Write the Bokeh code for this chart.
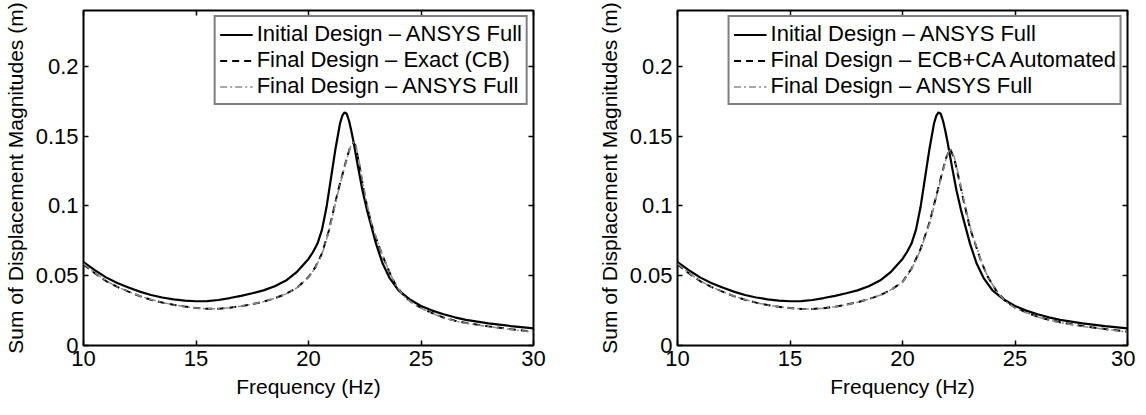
from bokeh.plotting import figure
from bokeh.models import Range1d, LinearAxis, FixedTicker, CustomJSTickFormatter
from bokeh.layouts import row
from bokeh.embed import file_html
from bokeh.resources import INLINE

# ---------------- data ----------------
x_ticks = [10, 15, 20, 25, 30]
y_ticks = [0, 0.05, 0.1, 0.15, 0.2]

x_label = "Frequency (Hz)"
y_label = "Sum of Displacement Magnitudes (m)"

labels_left = ["Initial Design \u2013 ANSYS Full",
               "Final Design \u2013 Exact (CB)",
               "Final Design \u2013 ANSYS Full"]
labels_right = ["Initial Design \u2013 ANSYS Full",
                "Final Design \u2013 ECB+CA Automated",
                "Final Design \u2013 ANSYS Full"]

# Initial design - ANSYS full (same in both panels)
freq_init = [10, 10.5, 11, 11.5, 12, 12.5, 13, 13.5, 14, 14.5, 15, 15.5, 16, 16.5,
             17, 17.5, 18, 18.5, 19, 19.5, 20, 20.2, 20.4, 20.6, 20.8, 21.0, 21.2,
             21.4, 21.5, 21.6, 21.7, 21.8, 21.9, 22.0, 22.2, 22.4, 22.6, 22.8, 23.0,
             23.3, 23.6, 24.0, 24.5, 25, 25.5, 26, 26.5, 27, 28, 29, 30]
disp_init = [0.0598, 0.0540, 0.0488, 0.0448, 0.0415, 0.0386, 0.0362, 0.0344, 0.0331,
             0.0322, 0.0317, 0.0318, 0.0326, 0.0340, 0.0356, 0.0374, 0.0395, 0.0425,
             0.0465, 0.0530, 0.0620, 0.0670, 0.0730, 0.0830, 0.0990, 0.1200, 0.1410,
             0.1590, 0.1645, 0.1670, 0.1660, 0.1610, 0.1540, 0.1460, 0.1280, 0.1110,
             0.0970, 0.0850, 0.0730, 0.0585, 0.0485, 0.0395, 0.0330, 0.0283, 0.0250,
             0.0224, 0.0202, 0.0184, 0.0158, 0.0139, 0.0123]

# Left panel: final design - exact (CB)
freq_cb = [10, 10.5, 11, 11.5, 12, 12.5, 13, 13.5, 14, 14.5, 15, 15.5, 16, 16.5, 17,
           17.5, 18, 18.5, 19, 19.5, 20, 20.3, 20.6, 20.9, 21.1, 21.3, 21.5, 21.7,
           21.85, 22.0, 22.1, 22.25, 22.4, 22.6, 22.8, 23.0, 23.3, 23.6, 23.9, 24.3,
           24.7, 25.1, 25.5, 26, 26.5, 27, 28, 29, 30]
disp_cb = [0.0582, 0.0518, 0.0462, 0.0420, 0.0386, 0.0354, 0.0328, 0.0308, 0.0292,
           0.0279, 0.0269, 0.0263, 0.0264, 0.0270, 0.0282, 0.0296, 0.0314, 0.0338,
           0.0370, 0.0415, 0.0490, 0.0560, 0.0660, 0.0820, 0.0960, 0.1100, 0.1220,
           0.1340, 0.1420, 0.1450, 0.1430, 0.1300, 0.1160, 0.1000, 0.0870, 0.0770,
           0.0640, 0.0525, 0.0425, 0.0345, 0.0298, 0.0262, 0.0232, 0.0200, 0.0178,
           0.0161, 0.0137, 0.0117, 0.0098]

# Left panel: final design - ANSYS full
freq_full_l = [10, 10.5, 11, 11.5, 12, 12.5, 13, 13.5, 14, 14.5, 15, 15.5, 16, 16.5, 17,
               17.5, 18, 18.5, 19, 19.5, 20, 20.3, 20.6, 20.9, 21.1, 21.3, 21.5, 21.7,
               21.85, 22.0, 22.1, 22.25, 22.4, 22.6, 22.8, 23.0, 23.3, 23.6, 23.9, 24.3,
               24.7, 25.1, 25.5, 26, 26.5, 27, 28, 29, 30]
disp_full_l = [0.0586, 0.0520, 0.0464, 0.0421, 0.0386, 0.0355, 0.0329, 0.0308, 0.0292,
               0.0279, 0.0269, 0.0263, 0.0264, 0.0270, 0.0282, 0.0296, 0.0314, 0.0338,
               0.0370, 0.0414, 0.0488, 0.0556, 0.0655, 0.0812, 0.0950, 0.1090, 0.1215,
               0.1335, 0.1418, 0.1455, 0.1440, 0.1320, 0.1180, 0.1015, 0.0880, 0.0775,
               0.0642, 0.0525, 0.0425, 0.0343, 0.0296, 0.0260, 0.0230, 0.0198, 0.0176,
               0.0159, 0.0135, 0.0115, 0.0096]

# Right panel: final design - ECB+CA automated
freq_ecb = [10, 10.5, 11, 11.5, 12, 12.5, 13, 13.5, 14, 14.5, 15, 15.5, 16, 16.5, 17,
            17.5, 18, 18.5, 19, 19.5, 20, 20.4, 20.8, 21.2, 21.5, 21.75, 21.95, 22.12,
            22.3, 22.5, 22.7, 23.0, 23.25, 23.5, 23.8, 24.2, 24.6, 25, 25.5, 26, 26.5,
            27, 28, 29, 30]
disp_ecb = [0.0582, 0.0518, 0.0462, 0.0420, 0.0386, 0.0354, 0.0328, 0.0307, 0.0290,
            0.0277, 0.0268, 0.0262, 0.0262, 0.0267, 0.0278, 0.0292, 0.0310, 0.0332,
            0.0360, 0.0400, 0.0455, 0.0550, 0.0690, 0.0880, 0.1070, 0.1230, 0.1350,
            0.1410, 0.1340, 0.1200, 0.1050, 0.0840, 0.0720, 0.0600, 0.0490, 0.0385,
            0.0315, 0.0272, 0.0237, 0.0207, 0.0184, 0.0166, 0.0139, 0.0118, 0.0099]

# Right panel: final design - ANSYS full
freq_full_r = [10, 10.5, 11, 11.5, 12, 12.5, 13, 13.5, 14, 14.5, 15, 15.5, 16, 16.5, 17,
               17.5, 18, 18.5, 19, 19.5, 20, 20.4, 20.8, 21.2, 21.5, 21.75, 21.95, 22.12,
               22.3, 22.5, 22.7, 23.0, 23.25, 23.5, 23.8, 24.2, 24.6, 25, 25.5, 26, 26.5,
               27, 28, 29, 30]
disp_full_r = [0.0586, 0.0520, 0.0464, 0.0421, 0.0386, 0.0355, 0.0329, 0.0307, 0.0290,
               0.0277, 0.0268, 0.0262, 0.0262, 0.0267, 0.0278, 0.0292, 0.0310, 0.0332,
               0.0360, 0.0400, 0.0453, 0.0546, 0.0684, 0.0872, 0.1062, 0.1222, 0.1345,
               0.1415, 0.1350, 0.1215, 0.1065, 0.0850, 0.0725, 0.0602, 0.0490, 0.0383,
               0.0313, 0.0270, 0.0235, 0.0205, 0.0182, 0.0164, 0.0137, 0.0116, 0.0097]

FONT = "Liberation Sans"


def style_axis(ax, ticker, show_labels):
    ax.ticker = ticker
    ax.axis_line_color = None
    ax.major_tick_in = 5
    ax.major_tick_out = 0
    ax.major_tick_line_color = "black"
    ax.major_tick_line_width = 1.5
    ax.minor_tick_line_color = None
    ax.major_label_text_font = FONT
    if show_labels:
        ax.major_label_text_font_size = "22px"
        ax.major_label_text_color = "black"
    else:
        ax.major_label_text_font_size = "1px"
        ax.major_label_text_color = None
        ax.major_label_standoff = 0


def make_panel(border_left, border_right, series, labels):
    p = figure(frame_width=450, frame_height=335,
               min_border_left=border_left, min_border_right=border_right,
               min_border_top=10, min_border_bottom=58,
               x_range=Range1d(10, 30), y_range=Range1d(0, 0.24),
               output_backend="svg", toolbar_location=None,
               background_fill_color="white", border_fill_color="white")
    p.grid.visible = False
    p.outline_line_color = "black"
    p.outline_line_width = 2
    p.outline_line_alpha = 1

    xt = FixedTicker(ticks=x_ticks)
    yt = FixedTicker(ticks=y_ticks)
    yfmt = CustomJSTickFormatter(code="return String(Math.round(tick*100)/100);")

    style_axis(p.xaxis[0], xt, True)
    p.xaxis[0].major_label_standoff = 5
    p.xaxis[0].axis_label = x_label
    p.xaxis[0].axis_label_standoff = 6
    style_axis(p.yaxis[0], yt, True)
    p.yaxis[0].formatter = yfmt
    p.yaxis[0].major_label_standoff = 5
    p.yaxis[0].axis_label = y_label
    p.yaxis[0].axis_label_standoff = 6
    for ax in (p.xaxis[0], p.yaxis[0]):
        ax.axis_label_text_font = FONT
        ax.axis_label_text_font_size = "21px"
        ax.axis_label_text_font_style = "normal"
        ax.axis_label_text_color = "black"

    top = LinearAxis()
    style_axis(top, xt, False)
    p.add_layout(top, "above")
    right = LinearAxis()
    style_axis(right, yt, False)
    p.add_layout(right, "right")

    (f0, v0), (f1, v1), (f2, v2) = series
    p.line(f0, v0, line_color="black", line_width=2.2, legend_label=labels[0])
    p.line(f1, v1, line_color="black", line_width=2, line_dash="7 5",
           legend_label=labels[1])
    p.line(f2, v2, line_color="#8a8a8a", line_width=1.5, line_dash="7 3 2 3",
           legend_label=labels[2])

    lg = p.legend[0]
    lg.location = "top_right"
    lg.margin = 5
    lg.padding = 4
    lg.spacing = 0
    lg.label_height = 25
    lg.glyph_height = 25
    lg.glyph_width = 33
    lg.label_standoff = 4
    lg.label_text_font = FONT
    lg.label_text_font_size = "22px"
    lg.label_text_color = "black"
    lg.border_line_color = "black"
    lg.border_line_width = 2
    lg.background_fill_color = "white"
    lg.background_fill_alpha = 1
    return p


p1 = make_panel(79, 36,
                [(freq_init, disp_init), (freq_cb, disp_cb), (freq_full_l, disp_full_l)],
                labels_left)
p2 = make_panel(108, 8,
                [(freq_init, disp_init), (freq_ecb, disp_ecb), (freq_full_r, disp_full_r)],
                labels_right)

layout = row(p1, p2)
open("out.html", "w").write(file_html(layout, INLINE))
